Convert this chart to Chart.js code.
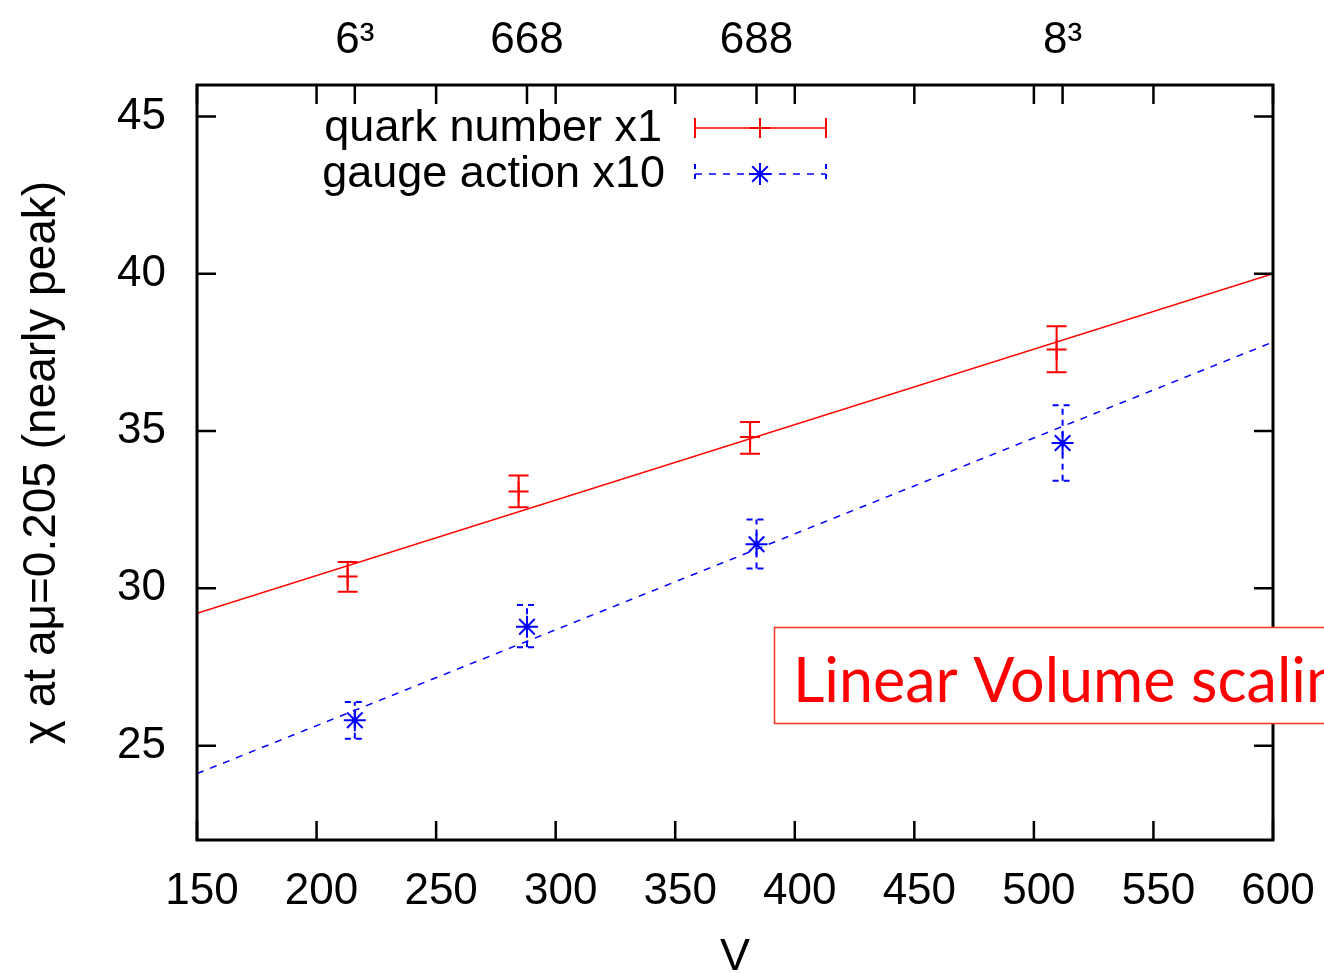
<!DOCTYPE html>
<html>
<head>
<meta charset="utf-8">
<script src="https://cdn.jsdelivr.net/npm/chart.js@4/dist/chart.umd.min.js"></script>
<style>
  html, body { margin: 0; padding: 0; background: #ffffff; overflow: hidden; }
  #wrap { width: 1324px; height: 973px; position: relative; }
</style>
</head>
<body>
<div id="wrap"><canvas id="c" width="1324" height="973"></canvas></div>
<script>
// ---- data ----
const xTickValues = [150, 200, 250, 300, 350, 400, 450, 500, 550, 600];
const yTickValues = [25, 30, 35, 40, 45];
const volumeTicks = [216, 288, 384, 512];
const volumeLabels = ['6\u00B3', '668', '688', '8\u00B3'];

const quarkX  = [213, 284.5, 381.3, 509.5];
const quarkY  = [30.38, 33.08, 34.81, 37.59];
const quarkLo = [29.89, 32.58, 34.28, 36.87];
const quarkHi = [30.84, 33.59, 35.29, 38.33];

const gaugeX  = [216, 288, 384, 512];
const gaugeY  = [25.81, 28.78, 31.40, 34.62];
const gaugeLo = [25.22, 28.13, 30.63, 33.42];
const gaugeHi = [26.39, 29.47, 32.19, 35.82];

const fitX     = [150, 600];
const quarkFit = [29.21, 40.00];
const gaugeFit = [24.11, 37.83];

const seriesNames = ['quark number x1', 'gauge action x10'];
const annotationText = 'Linear Volume scaling';

// ---- styling ----
const RED = '#ff0000';
const BLUE = '#0000ff';
const FONT = 'Liberation Sans';
const TICK_LEN = 19;

function pts(xs, ys) { return xs.map((x, i) => ({ x: x, y: ys[i] })); }

const decorPlugin = {
  id: 'decor',
  afterDatasetsDraw(chart) {
    const ctx = chart.ctx;
    const xs = chart.scales.x, ys = chart.scales.y;
    function errbars(xv, lo, hi, color, dash) {
      ctx.save();
      ctx.strokeStyle = color;
      ctx.lineWidth = 2;
      ctx.setLineDash(dash);
      for (let i = 0; i < xv.length; i++) {
        const px = xs.getPixelForValue(xv[i]);
        const p1 = ys.getPixelForValue(lo[i]);
        const p2 = ys.getPixelForValue(hi[i]);
        ctx.beginPath();
        ctx.moveTo(px, p1); ctx.lineTo(px, p2);
        ctx.stroke();
        ctx.beginPath();
        ctx.moveTo(px - 10, p1); ctx.lineTo(px + 10, p1);
        ctx.moveTo(px - 10, p2); ctx.lineTo(px + 10, p2);
        ctx.stroke();
      }
      ctx.restore();
    }
    errbars(quarkX, quarkLo, quarkHi, RED, []);
    errbars(gaugeX, gaugeLo, gaugeHi, BLUE, [6, 5]);
  },
  afterDraw(chart) {
    const ctx = chart.ctx;
    const a = chart.chartArea;
    const xs = chart.scales.x, ys = chart.scales.y, x2 = chart.scales.x2;
    ctx.save();
    // inward tick marks
    ctx.strokeStyle = '#000';
    ctx.lineWidth = 2.5;
    ctx.beginPath();
    xs.ticks.forEach(t => {
      const px = xs.getPixelForValue(t.value);
      ctx.moveTo(px, a.bottom); ctx.lineTo(px, a.bottom - TICK_LEN);
      ctx.moveTo(px, a.top); ctx.lineTo(px, a.top + TICK_LEN);
    });
    x2.ticks.forEach(t => {
      const px = x2.getPixelForValue(t.value);
      ctx.moveTo(px, a.top); ctx.lineTo(px, a.top + TICK_LEN);
    });
    ys.ticks.forEach(t => {
      const py = ys.getPixelForValue(t.value);
      ctx.moveTo(a.left, py); ctx.lineTo(a.left + TICK_LEN, py);
      ctx.moveTo(a.right, py); ctx.lineTo(a.right - TICK_LEN, py);
    });
    ctx.stroke();
    // frame
    ctx.lineWidth = 3;
    ctx.strokeRect(a.left, a.top, a.right - a.left, a.bottom - a.top);

    // legend
    ctx.font = '45px "' + FONT + '"';
    ctx.fillStyle = '#000';
    ctx.textAlign = 'right';
    ctx.textBaseline = 'middle';
    const ly1 = 128, ly2 = 174, lx0 = 695, lx1 = 826, lxm = 760;
    ctx.fillText(seriesNames[0], 662, ly1 + 1);
    ctx.fillText(seriesNames[1], 665, ly2 + 1);
    // red sample
    ctx.strokeStyle = RED;
    ctx.lineWidth = 1.5;
    ctx.beginPath(); ctx.moveTo(lx0, ly1); ctx.lineTo(lx1, ly1); ctx.stroke();
    ctx.lineWidth = 2;
    ctx.beginPath();
    ctx.moveTo(lx0, ly1 - 10); ctx.lineTo(lx0, ly1 + 10);
    ctx.moveTo(lx1, ly1 - 10); ctx.lineTo(lx1, ly1 + 10);
    ctx.moveTo(lxm - 10, ly1); ctx.lineTo(lxm + 10, ly1);
    ctx.moveTo(lxm, ly1 - 10); ctx.lineTo(lxm, ly1 + 10);
    ctx.stroke();
    // blue sample
    ctx.strokeStyle = BLUE;
    ctx.lineWidth = 1.5;
    ctx.setLineDash([7, 7]);
    ctx.beginPath(); ctx.moveTo(lx0, ly2); ctx.lineTo(lx1, ly2); ctx.stroke();
    ctx.lineWidth = 2;
    ctx.setLineDash([5, 5]);
    ctx.beginPath();
    ctx.moveTo(lx0, ly2 - 10); ctx.lineTo(lx0, ly2 + 10);
    ctx.moveTo(lx1, ly2 - 10); ctx.lineTo(lx1, ly2 + 10);
    ctx.stroke();
    ctx.setLineDash([]);
    Chart.helpers.drawPoint(ctx, { pointStyle: 'star', radius: 11, rotation: 0, borderWidth: 2 }, lxm, ly2);
    ctx.restore();

    // annotation box (partly outside the canvas, as in the reference)
    ctx.save();
    ctx.fillStyle = '#ffffff';
    ctx.strokeStyle = '#ff3322';
    ctx.lineWidth = 1.5;
    ctx.fillRect(774, 627, 600, 97);
    ctx.strokeRect(774.5, 627.5, 600, 96);
    ctx.fillStyle = RED;
    ctx.font = '61px Lato';
    ctx.textAlign = 'left';
    ctx.textBaseline = 'alphabetic';
    ctx.fillText(annotationText, 793, 702);
    ctx.restore();
  }
};

const tickFont = { family: FONT, size: 44 };
function noPadH(s) { s.paddingLeft = 0; s.paddingRight = 0; }

new Chart(document.getElementById('c'), {
  type: 'scatter',
  data: {
    datasets: [
      {
        label: 'quark fit',
        data: pts(fitX, quarkFit),
        showLine: true,
        borderColor: RED,
        borderWidth: 1.5,
        pointRadius: 0,
        fill: false
      },
      {
        label: 'gauge fit',
        data: pts(fitX, gaugeFit),
        showLine: true,
        borderColor: BLUE,
        borderWidth: 1.5,
        borderDash: [7, 7],
        pointRadius: 0,
        fill: false
      },
      {
        label: seriesNames[0],
        data: pts(quarkX, quarkY),
        pointStyle: 'cross',
        pointRadius: 10,
        pointBorderWidth: 2,
        borderColor: RED,
        backgroundColor: RED,
        showLine: false
      },
      {
        label: seriesNames[1],
        data: pts(gaugeX, gaugeY),
        pointStyle: 'star',
        pointRadius: 11,
        pointBorderWidth: 2,
        borderColor: BLUE,
        backgroundColor: BLUE,
        showLine: false
      }
    ]
  },
  options: {
    responsive: false,
    animation: false,
    devicePixelRatio: 1,
    layout: { padding: { left: 0, right: 51, top: 0, bottom: 0 } },
    plugins: { legend: { display: false }, tooltip: { enabled: false } },
    scales: {
      x: {
        type: 'linear',
        position: 'bottom',
        min: 150, max: 600,
        afterBuildTicks: s => { s.ticks = xTickValues.map(v => ({ value: v })); },
        afterFit: s => { s.height = 133; noPadH(s); },
        grid: { display: false, drawTicks: false },
        border: { display: false },
        ticks: { font: tickFont, color: '#000', padding: 25, labelOffset: 5, maxRotation: 0, autoSkip: false },
        title: { display: true, text: 'V', font: { family: FONT, size: 45 }, color: '#000', padding: { top: 0, bottom: -12 } }
      },
      x2: {
        type: 'linear',
        position: 'top',
        min: 150, max: 600,
        afterBuildTicks: s => { s.ticks = volumeTicks.map(v => ({ value: v })); },
        afterFit: s => { s.height = 85; noPadH(s); },
        grid: { display: false, drawTicks: false },
        border: { display: false },
        ticks: {
          font: tickFont, color: '#000', padding: 18, maxRotation: 0, autoSkip: false,
          callback: (v, i) => volumeLabels[i]
        }
      },
      y: {
        type: 'linear',
        position: 'left',
        min: 22, max: 46,
        afterBuildTicks: s => { s.ticks = yTickValues.map(v => ({ value: v })); },
        afterFit: s => { s.width = 197; s.paddingTop = 0; s.paddingBottom = 0; },
        grid: { display: false, drawTicks: false },
        border: { display: false },
        ticks: { font: tickFont, color: '#000', padding: 31 },
        title: { display: true, text: '\u03C7 at a\u03BC=0.205 (nearly peak)', font: { family: FONT, size: 46 }, color: '#000', padding: { top: 15, bottom: 0 } }
      }
    }
  },
  plugins: [decorPlugin]
});
</script>
</body>
</html>
